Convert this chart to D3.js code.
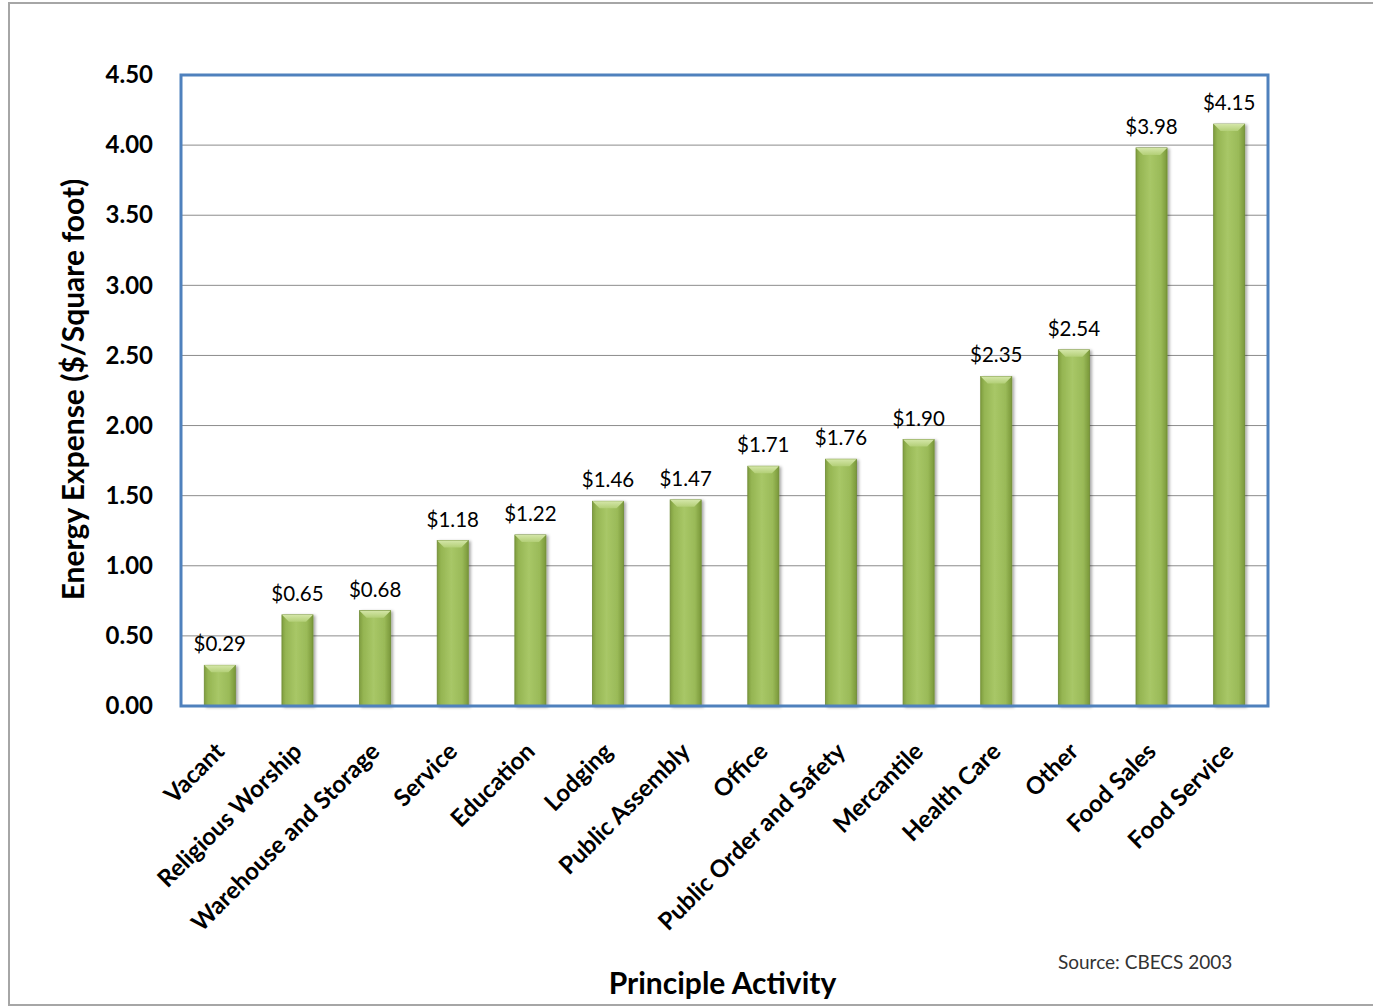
<!DOCTYPE html>
<html>
<head>
<meta charset="utf-8">
<script src="https://cdn.jsdelivr.net/npm/d3@7"></script>
<style>
  html, body { margin: 0; padding: 0; background: #ffffff; }
  svg { display: block; }
</style>
</head>
<body>
<svg id="chart" width="1373" height="1006"></svg>
<script>
// Energy expense per square foot by principal building activity (CBECS 2003)
const categories = [
  "Vacant", "Religious Worship", "Warehouse and Storage", "Service", "Education",
  "Lodging", "Public Assembly", "Office", "Public Order and Safety", "Mercantile",
  "Health Care", "Other", "Food Sales", "Food Service"
];
const expenses = [0.29, 0.65, 0.68, 1.18, 1.22, 1.46, 1.47, 1.71, 1.76, 1.90, 2.35, 2.54, 3.98, 4.15];
const yTicks = [0, 0.5, 1.0, 1.5, 2.0, 2.5, 3.0, 3.5, 4.0, 4.5];
const yTitle = "Energy Expense ($/Square foot)";
const xTitle = "Principle Activity";
const sourceNote = "Source: CBECS 2003";

const FONT = "Lato, 'Open Sans', sans-serif";
const svg = d3.select("#chart");
const W = 1373, H = 1006;
const plot = { left: 181, top: 75, right: 1268, bottom: 706 };

// outer frame
svg.append("rect")
  .attr("x", 9).attr("y", 3).attr("width", W + 20).attr("height", H - 4)
  .attr("fill", "#ffffff").attr("stroke", "#a6a6a6").attr("stroke-width", 2);

const x = d3.scaleBand()
  .domain(categories)
  .range([plot.left, plot.right])
  .paddingInner(0.6)
  .paddingOuter(0.3);

const y = d3.scaleLinear()
  .domain([0, 4.5])
  .range([plot.bottom, plot.top]);

const defs = svg.append("defs");
const bodyGrad = defs.append("linearGradient")
  .attr("id", "barBody").attr("x1", "0").attr("x2", "1").attr("y1", "0").attr("y2", "0");
[["0%", "#7f9d3f"], ["12%", "#95b552"], ["45%", "#a8c767"], ["80%", "#9aba58"], ["100%", "#7a983a"]]
  .forEach(([o, c]) => bodyGrad.append("stop").attr("offset", o).attr("stop-color", c));
const capGrad = defs.append("linearGradient")
  .attr("id", "barCap").attr("x1", "0").attr("x2", "0").attr("y1", "0").attr("y2", "1");
[["0%", "#d4e6a8"], ["100%", "#b3cf77"]]
  .forEach(([o, c]) => capGrad.append("stop").attr("offset", o).attr("stop-color", c));
const shadow = defs.append("filter").attr("id", "barShadow")
  .attr("x", "-30%").attr("y", "-10%").attr("width", "160%").attr("height", "120%");
shadow.append("feDropShadow")
  .attr("dx", 2).attr("dy", 1).attr("stdDeviation", 1.6)
  .attr("flood-color", "#000").attr("flood-opacity", 0.35);

// gridlines
svg.append("g")
  .selectAll("line")
  .data(yTicks.filter(t => t > 0 && t < 4.5))
  .join("line")
  .attr("x1", plot.left).attr("x2", plot.right)
  .attr("y1", d => y(d)).attr("y2", d => y(d))
  .attr("stroke", "#8c8c8c").attr("stroke-width", 1);

// bars
const bw = x.bandwidth();
const bars = svg.append("g").selectAll("g.bar")
  .data(categories.map((c, i) => ({ cat: c, v: expenses[i] })))
  .join("g").attr("class", "bar");

bars.append("rect")
  .attr("x", d => x(d.cat))
  .attr("y", d => y(d.v))
  .attr("width", bw)
  .attr("height", d => y(0) - y(d.v))
  .attr("fill", "url(#barBody)")
  .attr("stroke", "#6f8c33").attr("stroke-width", 0.8)
  .attr("filter", "url(#barShadow)");

// bevelled top cap
const bevel = 7;
bars.append("path")
  .attr("d", d => {
    const x0 = x(d.cat), x1 = x0 + bw, yt = y(d.v);
    return `M${x0},${yt} L${x1},${yt} L${x1 - bevel},${yt + bevel} L${x0 + bevel},${yt + bevel} Z`;
  })
  .attr("fill", "url(#barCap)");

// value labels
bars.append("text")
  .attr("x", d => x(d.cat) + bw / 2)
  .attr("y", d => y(d.v) - 14)
  .attr("text-anchor", "middle")
  .attr("font-family", FONT).attr("font-size", 20.5).attr("fill", "#000")
  .text(d => "$" + d3.format(".2f")(d.v));

// plot frame
svg.append("rect")
  .attr("x", plot.left).attr("y", plot.top)
  .attr("width", plot.right - plot.left).attr("height", plot.bottom - plot.top)
  .attr("fill", "none").attr("stroke", "#4f81bd").attr("stroke-width", 3);

// y axis
const yAxis = svg.append("g")
  .attr("transform", `translate(${plot.left},0)`)
  .call(d3.axisLeft(y).tickValues(yTicks).tickFormat(d3.format(".2f")).tickSize(0).tickPadding(28));
yAxis.select(".domain").remove();
yAxis.selectAll("text")
  .attr("font-family", FONT).attr("font-size", 24).attr("font-weight", 700).attr("fill", "#000");

// x axis
const xAxis = svg.append("g")
  .attr("transform", `translate(0,${plot.bottom})`)
  .call(d3.axisBottom(x).tickSize(0).tickPadding(0));
xAxis.select(".domain").remove();
xAxis.selectAll("text")
  .attr("font-family", FONT).attr("font-size", 24).attr("font-weight", 700).attr("fill", "#000")
  .attr("text-anchor", "end")
  .attr("dy", "0")
  .attr("transform", "translate(6,47) rotate(-45)");

// axis titles
svg.append("text")
  .attr("transform", `translate(84,${(plot.top + plot.bottom) / 2 - 1}) rotate(-90)`)
  .attr("text-anchor", "middle")
  .attr("font-family", FONT).attr("font-size", 30).attr("font-weight", 700).attr("fill", "#000")
  .text(yTitle);

svg.append("text")
  .attr("x", (plot.left + plot.right) / 2 - 2).attr("y", 994)
  .attr("text-anchor", "middle")
  .attr("font-family", FONT).attr("font-size", 30).attr("font-weight", 700).attr("fill", "#000")
  .text(xTitle);

svg.append("text")
  .attr("x", 1058).attr("y", 969)
  .attr("font-family", FONT).attr("font-size", 19).attr("fill", "#333")
  .text(sourceNote);
</script>
</body>
</html>
